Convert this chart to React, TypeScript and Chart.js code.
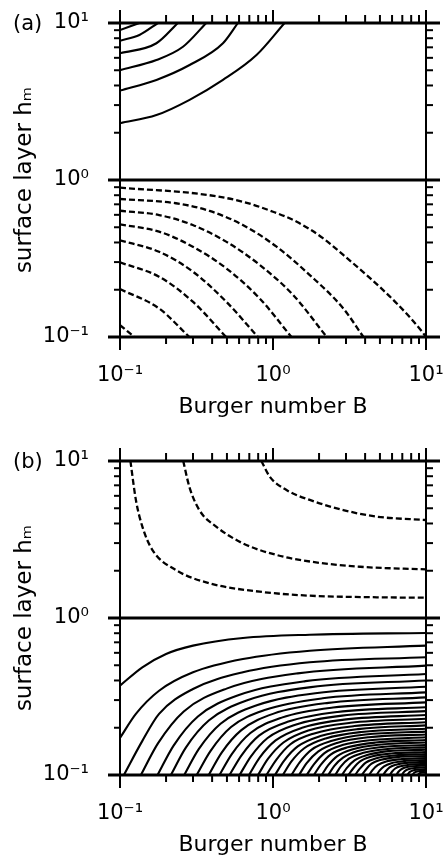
import React, { useEffect, useRef } from 'react';
import { Chart, registerables } from 'chart.js';

Chart.register(...registerables);

type Pt = [number, number];

// ---- axis ticks / labels ----
const majorTickValues = [0.1, 1, 10];
const majorTickLabels = ['10⁻¹', '10⁰', '10¹'];
const minorTickValues = [0.2, 0.3, 0.4, 0.5, 0.6, 0.7, 0.8, 0.9, 2, 3, 4, 5, 6, 7, 8, 9];
const xTitle = 'Burger number B';
const yTitle = 'surface layer hₘ';
const panelLetters = ['(a)', '(b)'];

// ---- panel (a): solid contours, upper layer (B, h) ----
const panelAUpperSolid: Pt[][] = [
  [[0.1, 2.30], [0.173, 2.59], [0.285, 3.24], [0.471, 4.34], [0.78, 6.25], [1.19, 10]],
  [[0.1, 3.71], [0.173, 4.34], [0.285, 5.40], [0.471, 7.43], [0.59, 10]],
  [[0.1, 5.01], [0.173, 5.81], [0.258, 7.06], [0.366, 10]],
  [[0.1, 6.41], [0.173, 7.43], [0.239, 10]],
  [[0.1, 7.71], [0.134, 8.39], [0.177, 10]],
  [[0.1, 9.02], [0.134, 10]],
];

// ---- panel (a): dashed contours, lower layer ----
const panelALowerDashed: Pt[][] = [
  [[0.1, 0.893], [0.347, 0.811], [0.635, 0.727], [1.0, 0.628], [1.43, 0.542], [2.13, 0.425], [2.88, 0.333], [4.31, 0.237], [6.47, 0.163], [9.44, 0.108], [10, 0.1]],
  [[0.1, 0.757], [0.232, 0.711], [0.385, 0.635], [0.635, 0.517], [1.055, 0.376], [1.74, 0.248], [2.88, 0.152], [3.9, 0.1]],
  [[0.1, 0.637], [0.18, 0.598], [0.299, 0.517], [0.494, 0.405], [0.818, 0.288], [1.355, 0.185], [2.245, 0.1]],
  [[0.1, 0.522], [0.18, 0.469], [0.299, 0.376], [0.494, 0.274], [0.818, 0.176], [1.32, 0.1]],
  [[0.1, 0.413], [0.18, 0.349], [0.299, 0.261], [0.494, 0.168], [0.798, 0.1]],
  [[0.1, 0.299], [0.18, 0.242], [0.299, 0.168], [0.494, 0.1]],
  [[0.1, 0.202], [0.18, 0.152], [0.284, 0.1]],
  [[0.1, 0.119], [0.124, 0.1]],
];

// ---- panel (b): dashed contours, upper layer ----
const panelBUpperDashed: Pt[][] = [
  [[0.117, 10], [0.127, 5.65], [0.14, 3.82], [0.163, 2.71], [0.232, 2.02], [0.385, 1.663], [0.818, 1.471], [1.74, 1.387], [4.78, 1.355], [10, 1.346]],
  [[0.259, 10], [0.284, 6.85], [0.33, 4.87], [0.425, 3.82], [0.635, 2.99], [1.055, 2.52], [1.74, 2.29], [3.71, 2.12], [10, 2.04]],
  [[0.839, 10], [0.953, 7.94], [1.225, 6.53], [1.74, 5.65], [2.88, 4.87], [4.78, 4.42], [10, 4.21]],
];

// ---- panel (b): solid contours, lower layer ----
const panelBLowerSolid: Pt[][] = [
  [[0.1, 0.371], [0.14, 0.485], [0.2, 0.59], [0.3, 0.667], [0.636, 0.746], [1.74, 0.783], [10, 0.803]],
  [[0.1, 0.172], [0.127, 0.245], [0.18, 0.344], [0.3, 0.451], [0.636, 0.548], [1.74, 0.619], [10, 0.667]],
  [[0.106, 0.1], [0.14, 0.165], [0.18, 0.245], [0.3, 0.353], [0.636, 0.451], [1.74, 0.522], [10, 0.562]],
  [[0.137, 0.1], [0.177, 0.159], [0.261, 0.254], [0.497, 0.355], [1.45, 0.444], [10, 0.497]],
  [[0.176, 0.1], [0.224, 0.154], [0.323, 0.236], [0.592, 0.322], [1.63, 0.396], [10, 0.44]],
  [[0.215, 0.1], [0.27, 0.15], [0.382, 0.223], [0.679, 0.299], [1.77, 0.363], [10, 0.40]],
  [[0.263, 0.1], [0.327, 0.146], [0.454, 0.212], [0.783, 0.278], [1.95, 0.333], [10, 0.365]],
  [[0.317, 0.1], [0.39, 0.142], [0.532, 0.202], [0.893, 0.26], [2.11, 0.308], [10, 0.336]],
  [[0.38, 0.1], [0.462, 0.139], [0.621, 0.193], [1.01, 0.246], [2.3, 0.288], [10, 0.312]],
  [[0.447, 0.1], [0.538, 0.136], [0.712, 0.185], [1.14, 0.232], [2.47, 0.269], [10, 0.29]],
  [[0.52, 0.1], [0.621, 0.133], [0.81, 0.178], [1.26, 0.219], [2.64, 0.252], [10, 0.27]],
  [[0.605, 0.1], [0.716, 0.131], [0.922, 0.172], [1.4, 0.209], [2.83, 0.239], [10, 0.255]],
  [[0.697, 0.1], [0.818, 0.129], [1.04, 0.166], [1.55, 0.2], [3.01, 0.226], [10, 0.241]],
  [[0.798, 0.1], [0.929, 0.127], [1.17, 0.161], [1.7, 0.192], [3.21, 0.215], [10, 0.228]],
  [[0.906, 0.1], [1.05, 0.125], [1.3, 0.157], [1.86, 0.184], [3.4, 0.205], [10, 0.217]],
  [[1.03, 0.1], [1.18, 0.123], [1.45, 0.152], [2.04, 0.177], [3.6, 0.196], [10, 0.207]],
  [[1.16, 0.1], [1.32, 0.122], [1.6, 0.148], [2.21, 0.171], [3.79, 0.188], [10, 0.197]],
  [[1.32, 0.1], [1.49, 0.12], [1.79, 0.145], [2.43, 0.165], [4.02, 0.181], [10, 0.189]],
  [[1.48, 0.1], [1.66, 0.119], [1.97, 0.141], [2.62, 0.16], [4.23, 0.174], [10, 0.181]],
  [[1.66, 0.1], [1.85, 0.117], [2.17, 0.138], [2.84, 0.155], [4.46, 0.167], [10, 0.174]],
  [[1.85, 0.1], [2.05, 0.116], [2.38, 0.135], [3.07, 0.15], [4.68, 0.161], [10, 0.167]],
  [[2.08, 0.1], [2.29, 0.115], [2.63, 0.132], [3.33, 0.146], [4.93, 0.156], [10, 0.161]],
  [[2.3, 0.1], [2.51, 0.114], [2.87, 0.129], [3.58, 0.142], [5.16, 0.151], [10, 0.155]],
  [[2.55, 0.1], [2.77, 0.113], [3.13, 0.127], [3.85, 0.138], [5.41, 0.146], [10, 0.150]],
  [[2.82, 0.1], [3.04, 0.111], [3.41, 0.124], [4.12, 0.134], [5.66, 0.142], [10, 0.145]],
  [[3.11, 0.1], [3.34, 0.110], [3.71, 0.122], [4.42, 0.131], [5.92, 0.137], [10, 0.140]],
  [[3.44, 0.1], [3.67, 0.109], [4.04, 0.120], [4.74, 0.128], [6.19, 0.133], [10, 0.136]],
  [[3.81, 0.1], [4.04, 0.108], [4.41, 0.118], [5.09, 0.125], [6.48, 0.130], [10, 0.132]],
  [[4.25, 0.1], [4.47, 0.1075], [4.83, 0.1155], [5.49, 0.122], [6.8, 0.126], [10, 0.128]],
  [[4.75, 0.1], [4.97, 0.1066], [5.32, 0.1135], [5.94, 0.119], [7.16, 0.1226], [10, 0.1245]],
  [[5.25, 0.1], [5.46, 0.1057], [5.78, 0.1117], [6.37, 0.1163], [7.48, 0.1195], [10, 0.1211]],
  [[5.8, 0.1], [5.99, 0.1049], [6.29, 0.110], [6.83, 0.1138], [7.82, 0.1164], [10, 0.1178]],
  [[6.4, 0.1], [6.57, 0.1041], [6.84, 0.1083], [7.31, 0.1115], [8.18, 0.1137], [10, 0.1147]],
  [[6.95, 0.1], [7.1, 0.1032], [7.34, 0.1066], [7.75, 0.1091], [8.49, 0.1108], [10, 0.1118]],
  [[7.55, 0.1], [7.68, 0.1025], [7.88, 0.1051], [8.21, 0.107], [8.81, 0.1082], [10, 0.109]],
  [[8.15, 0.1], [8.4, 0.1037], [9.12, 0.1059], [10, 0.1064]],
  [[8.8, 0.1], [9.14, 0.1031], [10, 0.1039]],
  [[9.45, 0.1], [10, 0.1015]],
];

const FONT = '"DejaVu Sans", sans-serif';
Chart.defaults.font.family = FONT;
Chart.defaults.color = '#000';

const tickLabel = (value: number | string) => {
  const v = Number(value);
  const i = majorTickValues.findIndex((m) => Math.abs(Math.log10(v) - Math.log10(m)) < 1e-6);
  return i >= 0 ? majorTickLabels[i] : '';
};

const framePlugin = {
  id: 'frame',
  afterDatasetsDraw(chart: any, _args: any, opts: any) {
    const { ctx, chartArea } = chart;
    const { left, right, top, bottom } = chartArea;
    const xs = chart.scales.x;
    const ys = chart.scales.y;
    ctx.save();
    ctx.strokeStyle = '#000';
    ctx.lineCap = 'butt';
    ctx.setLineDash([]);
    const line = (x1: number, y1: number, x2: number, y2: number, w: number) => {
      ctx.lineWidth = w;
      ctx.beginPath();
      ctx.moveTo(x1, y1);
      ctx.lineTo(x2, y2);
      ctx.stroke();
    };
    // horizontal frame lines at 10^1, 10^0, 10^-1
    majorTickValues.forEach((v) => {
      const py = ys.getPixelForValue(v);
      line(left - 12, py, right + 14, py, 3);
    });
    // vertical frame lines
    line(left, top - 13, left, bottom + 13, 2);
    line(right, top - 13, right, bottom + 13, 2);
    // x ticks (top outward, bottom outward)
    majorTickValues.forEach((v) => {
      const px = xs.getPixelForValue(v);
      line(px, top, px, top - 13, 2);
      line(px, bottom, px, bottom + 13, 2);
    });
    minorTickValues.forEach((v) => {
      const px = xs.getPixelForValue(v);
      line(px, top, px, top - 8, 2);
      line(px, bottom, px, bottom + 7, 2);
    });
    // y ticks (left outward, right outward)
    minorTickValues.forEach((v) => {
      const py = ys.getPixelForValue(v);
      line(left, py, left - 6, py, 2);
      line(right, py, right + 7, py, 2);
    });
    // panel letter
    ctx.fillStyle = '#000';
    ctx.font = `21px ${FONT}`;
    ctx.textAlign = 'left';
    ctx.textBaseline = 'middle';
    ctx.fillText(opts.letter, 13, top + 2);
    ctx.restore();
  },
};

const makeDatasets = (solid: Pt[][], dashed: Pt[][]) => [
  ...solid.map((c) => ({ curve: c, dashed: false })),
  ...dashed.map((c) => ({ curve: c, dashed: true })),
].map(({ curve, dashed }) => ({
  data: curve.map(([x, y]) => ({ x, y })),
  showLine: true,
  borderColor: '#000',
  borderWidth: dashed ? 2.3 : 2.1,
  pointRadius: 0,
  fill: false,
  borderDash: dashed ? [6, 3] : [],
  cubicInterpolationMode: 'monotone' as const,
}));

const W = 445;
const H = 420;

function Panel({ letter, solid, dashed, top }: { letter: string; solid: Pt[][]; dashed: Pt[][]; top: number }) {
  const ref = useRef<HTMLCanvasElement | null>(null);
  useEffect(() => {
    if (!ref.current) return;
    const chart = new Chart(ref.current, {
      type: 'scatter',
      data: { datasets: makeDatasets(solid, dashed) as any },
      plugins: [framePlugin as any],
      options: {
        responsive: false,
        animation: false,
        events: [],
        layout: { padding: { top: 23, right: 19, left: 0, bottom: 0 } },
        plugins: {
          legend: { display: false },
          tooltip: { enabled: false },
          frame: { letter },
        } as any,
        scales: {
          x: {
            type: 'logarithmic',
            min: 0.1,
            max: 10,
            position: 'bottom',
            grid: { display: false, drawTicks: false },
            border: { display: false },
            ticks: {
              autoSkip: false,
              maxRotation: 0,
              minRotation: 0,
              padding: 26,
              font: { size: 21 },
              color: '#000',
              callback: tickLabel,
            },
            title: {
              display: true,
              text: xTitle,
              font: { size: 22 },
              color: '#000',
              padding: { top: 0, bottom: 0 },
            },
            afterFit: (s: any) => {
              s.height = H - 337;
              s.paddingLeft = 0;
              s.paddingRight = 0;
            },
          },
          y: {
            type: 'logarithmic',
            min: 0.1,
            max: 10,
            grid: { display: false, drawTicks: false },
            border: { display: false },
            ticks: {
              autoSkip: false,
              padding: 31,
              font: { size: 21 },
              color: '#000',
              callback: tickLabel,
            },
            title: {
              display: true,
              text: yTitle,
              font: { size: 23 },
              color: '#000',
              padding: { top: 11, bottom: 0 },
            },
            afterFit: (s: any) => {
              s.width = 120;
              s.paddingTop = 0;
              s.paddingBottom = 0;
            },
          },
        } as any,
      },
    });
    return () => chart.destroy();
  }, []);
  return (
    <canvas
      ref={ref}
      width={W}
      height={H}
      style={{ position: 'absolute', left: 0, top, width: W, height: H }}
    />
  );
}

export default function App() {
  return (
    <div style={{ position: 'absolute', left: 0, top: 0, width: 445, height: 859, background: '#fff', overflow: 'hidden' }}>
      <Panel letter={panelLetters[0]} solid={panelAUpperSolid} dashed={panelALowerDashed} top={0} />
      <Panel letter={panelLetters[1]} solid={panelBLowerSolid} dashed={panelBUpperDashed} top={438} />
    </div>
  );
}
